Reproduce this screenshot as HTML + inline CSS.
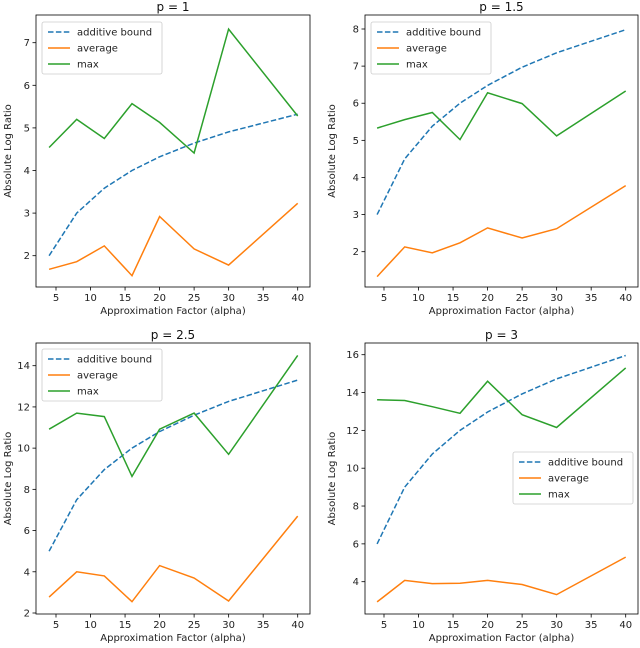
<!DOCTYPE html>
<html><head><meta charset="utf-8"><style>body{margin:0;background:#fff}svg{display:block;font-family:"DejaVu Sans","Liberation Sans",sans-serif}</style></head>
<body>
<svg id="c" width="640" height="648" viewBox="0 0 640 648"></svg>
<script>
const alphas=[4,8,12,16,20,25,30,40];
const xTicks=[5,10,15,20,25,30,35,40];
const titles=["p = 1","p = 1.5","p = 2.5","p = 3"];
const bound1=[2,3,3.585,4,4.322,4.644,4.907,5.322];
const avg1=[1.68,1.86,2.23,1.53,2.92,2.16,1.78,3.23];
const max1=[4.54,5.2,4.75,5.57,5.13,4.41,7.32,5.28];
const bound2=[3,4.5,5.38,6,6.48,6.97,7.36,7.98];
const avg2=[1.33,2.13,1.97,2.24,2.64,2.37,2.62,3.78];
const max2=[5.33,5.56,5.75,5.02,6.28,5.99,5.12,6.33];
const bound3=[5,7.5,8.96,10,10.8,11.6,12.27,13.3];
const avg3=[2.77,4.0,3.8,2.55,4.3,3.7,2.58,6.7];
const max3=[10.92,11.7,11.53,8.63,10.92,11.7,9.7,14.5];
const bound4=[6,9,10.75,12,12.97,13.93,14.72,15.96];
const avg4=[2.93,4.07,3.9,3.92,4.07,3.85,3.32,5.3];
const max4=[13.62,13.58,13.25,12.9,14.6,12.83,12.15,15.3];
const yTicks1=[2,3,4,5,6,7];
const yTicks2=[2,3,4,5,6,7,8];
const yTicks3=[2,4,6,8,10,12,14];
const yTicks4=[4,6,8,10,12,14,16];
const NS="http://www.w3.org/2000/svg";
const svg=document.getElementById('c');
function el(t,a,p){const e=document.createElementNS(NS,t);for(const k in a)e.setAttribute(k,a[k]);(p||svg).appendChild(e);return e;}
const panels=[
 {L:36,R:310,T:15,B:287,x5:56,x40:297.7,ya:2,yaP:255.7,yb:7,ybP:42.7,yt:yTicks1,s:[bound1,avg1,max1],leg:[42,22]},
 {L:365,R:638,T:15,B:287,x5:384,x40:625.7,ya:2,yaP:251.7,yb:8,ybP:29,yt:yTicks2,s:[bound2,avg2,max2],leg:[371,22]},
 {L:36,R:310,T:343,B:614,x5:56,x40:297.7,ya:2,yaP:613,yb:14,ybP:365.7,yt:yTicks3,s:[bound3,avg3,max3],leg:[42,349]},
 {L:365,R:638,T:343,B:614,x5:384,x40:625.7,ya:4,yaP:581.7,yb:16,ybP:354.7,yt:yTicks4,s:[bound4,avg4,max4],leg:[513,452]}
];
const colors=["#1f77b4","#ff7f0e","#2ca02c"];
const names=["additive bound","average","max"];
panels.forEach((p,i)=>{
 const g=el('g',{});
 
 
 const X=v=>p.x5+(v-5)*(p.x40-p.x5)/35;
 const Y=v=>p.yaP+(v-p.ya)*(p.ybP-p.yaP)/(p.yb-p.ya);
 p.s.forEach((arr,k)=>{
  const l=el('polyline',{points:arr.map((v,j)=>X(alphas[j]).toFixed(1)+','+Y(v).toFixed(1)).join(' '),fill:'none',stroke:colors[k],'stroke-width':1.5,'stroke-dasharray':k==0?'5.5,2.4':'none'},g);
  
  
 });
 const fr=el('rect',{x:p.L,y:p.T,width:p.R-p.L,height:p.B-p.T,fill:'none',stroke:'#000','stroke-width':0.8},g);
 
 
 xTicks.forEach(t=>{const x=X(t);el('line',{x1:x,x2:x,y1:p.B,y2:p.B+3.5,stroke:'#000','stroke-width':0.8},g);
  const tx=el('text',{x:x,y:p.B+14,'font-size':10,'text-anchor':'middle',fill:'#222'},g);tx.textContent=t;
  
  });
 p.yt.forEach(t=>{const y=Y(t);el('line',{x1:p.L-3.5,x2:p.L,y1:y,y2:y,stroke:'#000','stroke-width':0.8},g);
  const tx=el('text',{x:p.L-6,y:y+3.5,'font-size':10,'text-anchor':'end',fill:'#222'},g);tx.textContent=t;
  
  });
 const cx=(p.L+p.R)/2;
 const tt=el('text',{x:cx,y:p.T-4,'font-size':12,'text-anchor':'middle',fill:'#111'},g);tt.textContent=titles[i];
 
 
 const xl=el('text',{x:cx,y:p.B+27,'font-size':10,'text-anchor':'middle',fill:'#222'},g);xl.textContent='Approximation Factor (alpha)';
 
 
 const yx=(i%2==0)?11:(p.L-30);const yc=(p.T+p.B)/2;
 const yl=el('text',{x:yx,y:yc,'font-size':10,'text-anchor':'middle',fill:'#222',transform:`rotate(-90 ${yx} ${yc})`},g);yl.textContent='Absolute Log Ratio';
 
 
 const lg=el('g',{},g);
 
 
 const [lx,ly]=p.leg;
 el('rect',{x:lx,y:ly,width:120,height:52,rx:2,fill:'#fff','fill-opacity':0.85,stroke:'#ccc','stroke-width':0.8},lg);
 names.forEach((n,k)=>{const y=ly+10+k*16;
  el('line',{x1:lx+6,x2:lx+28,y1:y,y2:y,stroke:colors[k],'stroke-width':1.5,'stroke-dasharray':k==0?'5.5,2.4':'none'},lg);
  const t=el('text',{x:lx+35,y:y+3.5,'font-size':10,fill:'#222'},lg);t.textContent=n;
  
  });
});
</script>
</body></html>
